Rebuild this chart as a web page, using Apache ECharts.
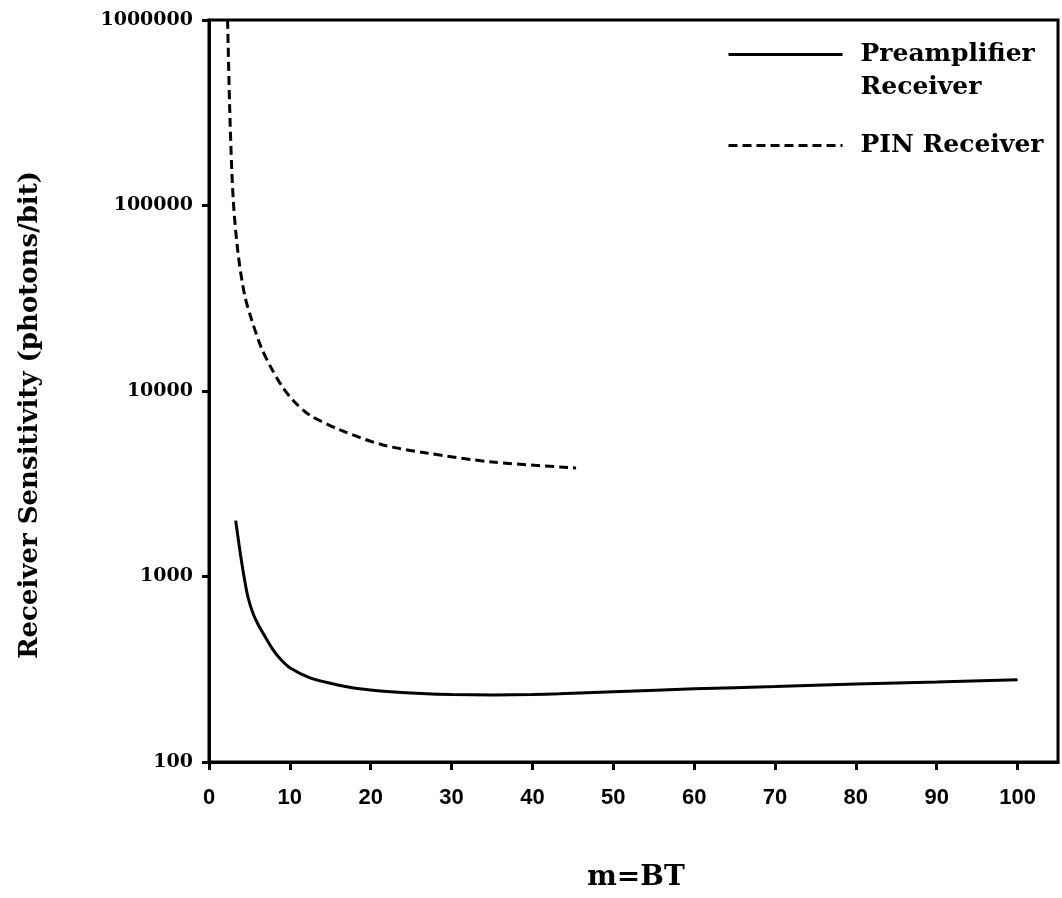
<!DOCTYPE html>
<html>
<head>
<meta charset="utf-8">
<script src="https://cdn.jsdelivr.net/npm/echarts@6/dist/echarts.min.js"></script>
<style>
  html, body { margin: 0; padding: 0; background: #fff; }
  #chart { width: 1062px; height: 898px; }
</style>
</head>
<body>
<div id="chart"></div>
<script>
// m = BT (x) and sensitivity in photons/bit (y)
var preampX = [3.3, 3.7, 4.2, 4.8, 5.4, 6.0, 6.8, 7.8, 8.8, 10, 12.5, 15, 18.6, 22, 26.9, 30, 35.1, 40, 43.3, 50, 55.3, 60, 70, 80, 90, 100];
var preampY = [2000, 1500, 1080, 780, 640, 560, 485, 410, 360, 322, 284, 266, 248, 240, 233, 231, 230, 231, 233, 239, 244, 248, 255, 263, 270, 278];
var pinX = [2.3, 2.6, 3.0, 3.6, 4.4, 5.3, 6.5, 7.7, 9.1, 10.5, 12.5, 16.2, 21.5, 26.9, 35.1, 45.4];
var pinY = [1000000, 290000, 107000, 55000, 33000, 24000, 17000, 13300, 10500, 8800, 7400, 6170, 5120, 4630, 4140, 3850];
var xTicks = [0, 10, 20, 30, 40, 50, 60, 70, 80, 90, 100];
var seriesNames = ['Preamplifier Receiver', 'PIN Receiver'];

var serif = "'DejaVu Serif', serif";

function pairs(xs, ys) {
	var out = [];
	for (var i = 0; i < xs.length; i++) {
		out.push([xs[i], ys[i]]);
	}
	return out;
}

var chart = echarts.init(document.getElementById('chart'));
chart.setOption({
	animation: false,
	backgroundColor: '#fff',
	grid: {
		left: 209,
		right: 4,
		top: 20,
		bottom: 136,
		containLabel: false,
		outerBoundsMode: 'none',
		show: true,
		borderColor: '#000',
		borderWidth: 3
	},
	legend: {
		orient: 'vertical',
		left: 722,
		top: 0,
		itemWidth: 114,
		itemHeight: 14,
		itemGap: 25,
		selectedMode: false,
		data: seriesNames,
		itemStyle: { opacity: 0 },
		lineStyle: { width: 3 },
		formatter: function(name) {
			return name === 'Preamplifier Receiver' ? '\nPreamplifier\nReceiver' : name;
		},
		textStyle: {
			fontFamily: serif,
			fontWeight: 'bold',
			fontSize: 25,
			lineHeight: 33,
			color: '#000',
			padding: [0, 0, 0, 13]
		}
	},
	xAxis: {
		type: 'value',
		min: 0,
		max: 105,
		splitLine: { show: false },
		axisLine: { lineStyle: { color: '#000', width: 3 } },
		axisTick: {
			length: 8,
			lineStyle: { color: '#000', width: 3 },
			customValues: xTicks
		},
		axisLabel: {
			customValues: xTicks,
			margin: 25,
			color: '#000',
			fontFamily: "'Liberation Sans', sans-serif",
			fontWeight: 'bold',
			fontSize: 22
		}
	},
	yAxis: {
		type: 'log',
		logBase: 10,
		min: 100,
		max: 1000000,
		splitLine: { show: false },
		minorTick: { show: false },
		axisLine: { lineStyle: { color: '#000', width: 3 } },
		axisTick: { length: 7, lineStyle: { color: '#000', width: 3 } },
		axisLabel: {
			margin: 16,
			color: '#000',
			fontFamily: serif,
			fontWeight: 'bold',
			fontSize: 19,
			formatter: function(v) { return String(Math.round(v)); }
		}
	},
	graphic: [{
		type: 'text',
		x: 30,
		y: 415,
		rotation: Math.PI / 2,
		style: {
			text: 'Receiver Sensitivity (photons/bit)',
			fontFamily: serif,
			fontWeight: 'bold',
			fontSize: 26,
			fill: '#000',
			align: 'center',
			verticalAlign: 'middle'
		}
	}, {
		type: 'text',
		x: 636,
		y: 878,
		style: {
			text: 'm=BT',
			fontFamily: serif,
			fontWeight: 'bold',
			fontSize: 28,
			fill: '#000',
			align: 'center',
			verticalAlign: 'middle'
		}
	}],
	series: [{
		name: seriesNames[0],
		type: 'line',
		data: pairs(preampX, preampY),
		smooth: 0.3,
		symbol: 'none',
		lineStyle: { color: '#000', width: 3, type: 'solid' },
		itemStyle: { color: '#000' }
	}, {
		name: seriesNames[1],
		type: 'line',
		data: pairs(pinX, pinY),
		smooth: 0.3,
		symbol: 'none',
		lineStyle: { color: '#000', width: 3, type: [9, 5] },
		itemStyle: { color: '#000' }
	}]
});
</script>
</body>
</html>
